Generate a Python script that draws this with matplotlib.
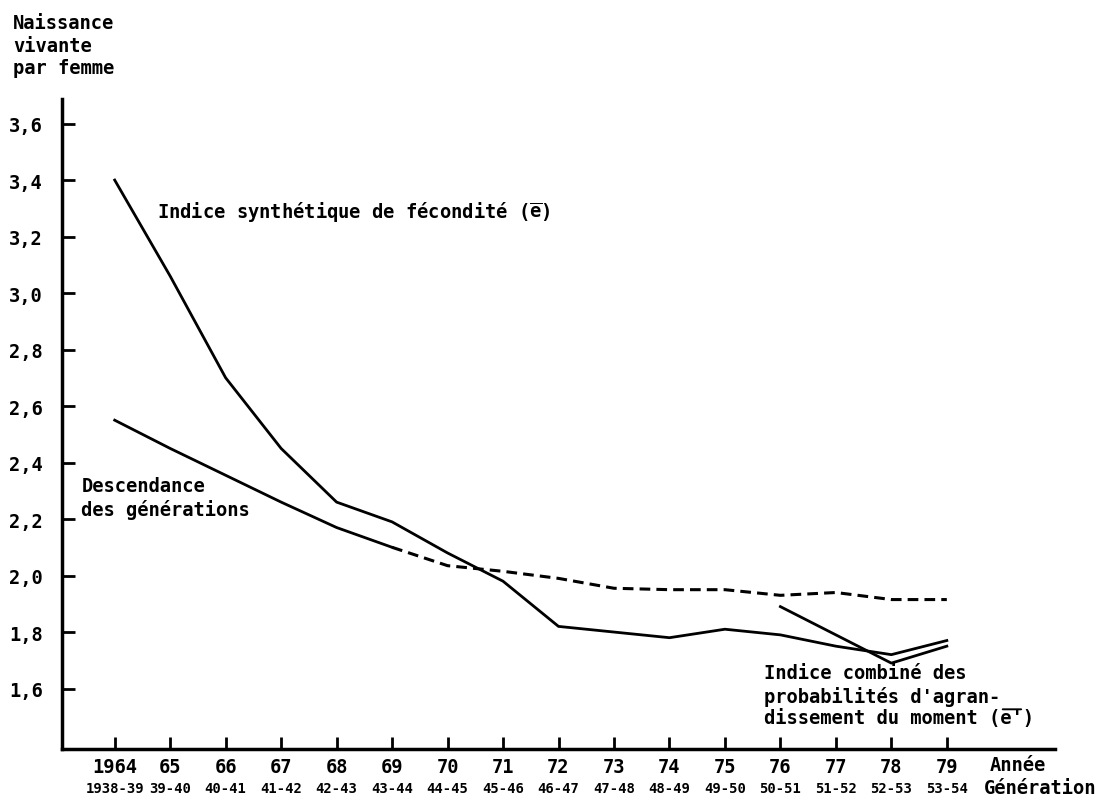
import matplotlib
matplotlib.use("Agg")
from matplotlib import pyplot as plt
from matplotlib.transforms import offset_copy

# values
years = list(range(1964, 1980))
isf = [3.40, 3.06, 2.70, 2.45, 2.26, 2.19, 2.08, 1.98, 1.82, 1.80, 1.78, 1.81, 1.79, 1.75, 1.72, 1.77]

cohort_years = [1964, 1965, 1966, 1967, 1968, 1969]
cohort = [2.55, 2.45, 2.355, 2.26, 2.17, 2.10]
cohort_est_years = [1969, 1970, 1971, 1972, 1973, 1974, 1975, 1976, 1977, 1978, 1979]
cohort_est = [2.10, 2.035, 2.015, 1.99, 1.955, 1.95, 1.95, 1.93, 1.94, 1.915, 1.915]

comb_years = [1976, 1977, 1978, 1979]
comb = [1.89, 1.79, 1.69, 1.75]

year_labels = ["1964", "65", "66", "67", "68", "69", "70", "71", "72", "73",
               "74", "75", "76", "77", "78", "79"]
gen_labels = ["1938-39", "39-40", "40-41", "41-42", "42-43", "43-44", "44-45", "45-46",
              "46-47", "47-48", "48-49", "49-50", "50-51", "51-52", "52-53", "53-54"]
yticks = [1.6, 1.8, 2.0, 2.2, 2.4, 2.6, 2.8, 3.0, 3.2, 3.4, 3.6]

plt.rcParams["font.family"] = "DejaVu Sans Mono"
plt.rcParams["font.weight"] = "bold"
plt.rcParams["mathtext.fontset"] = "custom"
plt.rcParams["mathtext.rm"] = "DejaVu Sans Mono:bold"
plt.rcParams["mathtext.it"] = "DejaVu Sans Mono:bold"
FS = 13.5

fig = plt.figure(figsize=(11.01, 8.03), dpi=100)
ax = fig.add_axes([62 / 1101, 1 - 750 / 803, (1055 - 62) / 1101, 650 / 803])

ax.plot(years, isf, color="black", lw=2)
ax.plot(cohort_years, cohort, color="black", lw=2)
ax.plot(cohort_est_years, cohort_est, color="black", lw=2.2, dashes=(3.5, 2))
ax.plot(comb_years, comb, color="black", lw=2)

ax.set_xlim(1963.05, 1980.95)
ax.set_ylim(1.386, 3.687)
for s in ["top", "right"]:
    ax.spines[s].set_visible(False)
for s in ["left", "bottom"]:
    ax.spines[s].set_linewidth(2.5)

ax.set_xticks(years)
ax.set_xticklabels(year_labels, fontsize=FS)
ax.set_yticks(yticks)
ax.set_yticklabels([("%.1f" % v).replace(".", ",") for v in yticks], fontsize=FS)
ax.tick_params(axis="both", direction="in", length=9, width=2)
ax.tick_params(axis="x", pad=6)
ax.tick_params(axis="y", pad=14)

for y, g in zip(years, gen_labels):
    ax.annotate(g, (y, 0), xycoords=("data", "axes fraction"), xytext=(0, -28),
                textcoords="offset points", ha="center", va="center", fontsize=10)

ax.annotate("Année", (1, 0), xycoords="axes fraction", xytext=(-27, -11),
            textcoords="offset points", ha="center", va="center", fontsize=FS)
ax.annotate("Génération", (1, 0), xycoords="axes fraction", xytext=(-11, -28),
            textcoords="offset points", ha="center", va="center", fontsize=FS)

fig.text(13 / 1101, 1 - 14 / 803, "Naissance\nvivante\npar femme", ha="left", va="top",
         fontsize=FS, linespacing=1.25)

ax.text(1964.76, 3.29, r"Indice synthétique de fécondité ($\overline{\mathrm{e}}$)",
        ha="left", va="center", fontsize=FS)
ax.text(1963.4, 2.277, "Descendance\ndes générations", ha="left", va="center",
        fontsize=FS, linespacing=1.25)
ax.text(1975.71, 1.615, "Indice combiné des\nprobabilités d'agran-", ha="left", va="center",
        fontsize=FS, linespacing=1.25)
last = "dissement du moment (e')"
ax.text(1975.71, 1.497, last, ha="left", va="center", fontsize=FS)
# overline above e' (monospaced: each char is 0.602 em wide)
cw = 0.602 * FS
start = offset_copy(ax.transData, fig=fig, x=last.index("e'") * cw + 1, y=6, units="points")
ax.annotate("", xy=(1975.71, 1.497), xycoords=start, xytext=(2 * cw - 3, 0),
            textcoords="offset points",
            arrowprops=dict(arrowstyle="-", lw=1.4, color="black", shrinkA=0, shrinkB=0))

fig.savefig("out.png", dpi=100)
